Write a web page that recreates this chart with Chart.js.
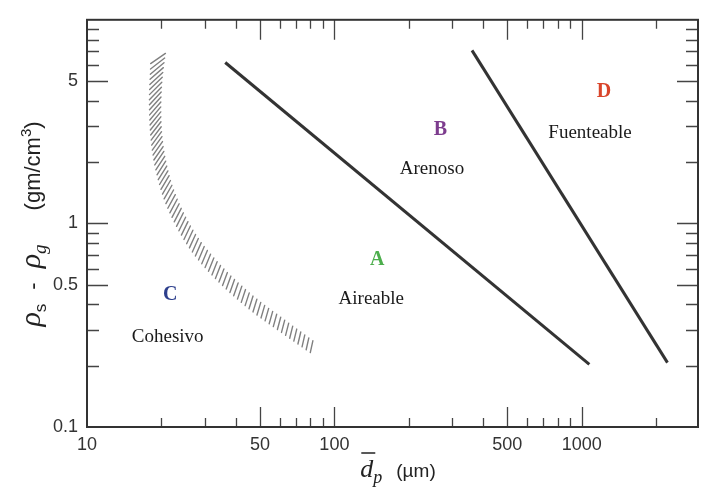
<!DOCTYPE html>
<html>
<head>
<meta charset="utf-8">
<script src="https://cdn.jsdelivr.net/npm/chart.js@4"></script>
<style>
  html, body { margin: 0; padding: 0; background: #fff; }
</style>
</head>
<body>
<canvas id="myChart" width="707" height="488"></canvas>
<script>
// tick labels shown on the log axes
const xTickLabels = [10, 50, 100, 500, 1000];
const yTickLabels = [0.1, 0.5, 1, 5];

// boundary A / B
const lineABx = [36.2, 1073];
const lineABy = [6.17, 0.203];
// boundary B / D
const lineBDx = [360, 2220];
const lineBDy = [7.08, 0.207];
// hatched boundary C / A
const lineCAx = [19.4, 18.9, 19.05, 20.0, 22.1, 26.6, 33.9, 45.7, 62.1, 83.6];
const lineCAy = [6.6, 4.29, 2.74, 1.86, 1.26, 0.823, 0.576, 0.412, 0.312, 0.241];

// region letters and names (data coordinates)
const regionLetters = ['C', 'A', 'B', 'D'];
const letterX = [21.7, 149, 268, 1230];
const letterY = [0.446, 0.666, 2.87, 4.43];
const regionNames = ['Cohesivo', 'Aireable', 'Arenoso', 'Fuenteable'];
const nameX = [21.2, 141, 248, 1080];
const nameY = [0.276, 0.426, 1.86, 2.77];

const letterColors = ['#2c3e8c', '#4cae4c', '#7d3c8e', '#d9452b'];

function toPoints(xs, ys) {
  return xs.map((x, i) => ({ x: x, y: ys[i] }));
}

function findLabel(list, v) {
  return list.find(l => Math.abs(v - l) / l < 1e-6);
}

function isWholeMultiple(v) {
  const e = Math.floor(Math.log10(v) + 1e-9);
  const m = v / Math.pow(10, e);
  return Math.abs(m - Math.round(m)) < 1e-6;
}

// text made of pieces with different fonts / offsets
function drawRich(ctx, parts, cx, baseY) {
  let total = 0;
  parts.forEach(p => {
    ctx.font = p.f;
    p.w = p.t ? ctx.measureText(p.t).width : 0;
    total += p.w + (p.gap || 0);
  });
  let x = cx - total / 2;
  ctx.textAlign = 'left';
  ctx.textBaseline = 'alphabetic';
  parts.forEach(p => {
    ctx.font = p.f;
    if (p.t) ctx.fillText(p.t, x, baseY + (p.dy || 0));
    p.x0 = x;
    x += p.w + (p.gap || 0);
  });
  return parts;
}

function drawHatch(ctx, pts) {
  const samples = [];
  for (let i = 0; i < pts.length - 1; i++) {
    const p0 = pts[Math.max(i - 1, 0)], p1 = pts[i], p2 = pts[i + 1], p3 = pts[Math.min(i + 2, pts.length - 1)];
    for (let k = 0; k < 20; k++) {
      const t = k / 20, t2 = t * t, t3 = t2 * t;
      const cr = (a, b, c, d) => 0.5 * (2 * b + (-a + c) * t + (2 * a - 5 * b + 4 * c - d) * t2 + (-a + 3 * b - 3 * c + d) * t3);
      samples.push({ x: cr(p0.x, p1.x, p2.x, p3.x), y: cr(p0.y, p1.y, p2.y, p3.y) });
    }
  }
  samples.push({ x: pts[pts.length - 1].x, y: pts[pts.length - 1].y });
  const cum = [0];
  for (let i = 1; i < samples.length; i++) {
    cum.push(cum[i - 1] + Math.hypot(samples[i].x - samples[i - 1].x, samples[i].y - samples[i - 1].y));
  }
  const total = cum[cum.length - 1];
  ctx.save();
  ctx.strokeStyle = '#808080';
  ctx.lineWidth = 1.4;
  ctx.lineCap = 'round';
  ctx.beginPath();
  let j = 1;
  for (let s = 2; s < total - 1; s += 5) {
    while (j < cum.length - 1 && cum[j] < s) j++;
    const a = samples[j - 1], b = samples[j];
    const seg = cum[j] - cum[j - 1] || 1;
    const f = (s - cum[j - 1]) / seg;
    const x = a.x + (b.x - a.x) * f, y = a.y + (b.y - a.y) * f;
    const frac = s / total;
    // stroke slant goes from shallow at the top to nearly upright at the bottom
    const ang = (31 + 47 * Math.sqrt(frac)) * Math.PI / 180;
    const half = (18 - 6 * frac) / 2;
    const dx = Math.cos(ang) * half, dy = -Math.sin(ang) * half;
    ctx.moveTo(x - dx, y - dy);
    ctx.lineTo(x + dx, y + dy);
  }
  ctx.stroke();
  ctx.restore();
}

const decorations = {
  id: 'decorations',
  afterDraw(chart) {
    const ctx = chart.ctx;
    const area = chart.chartArea;
    const xs = chart.scales.x, ys = chart.scales.y;

    // hatched C/A boundary
    const meta = chart.getDatasetMeta(0);
    drawHatch(ctx, meta.data.map(p => ({ x: p.x, y: p.y })));

    ctx.save();
    // inward ticks on all four sides
    ctx.strokeStyle = '#444';
    ctx.lineWidth = 1.3;
    ctx.beginPath();
    xs.ticks.forEach(t => {
      const v = t.value;
      if (!isWholeMultiple(v) || v <= xs.min * 1.0001 || v >= xs.max * 0.9999) return;
      const px = Math.round(xs.getPixelForValue(v)) + 0.5;
      const len = findLabel(xTickLabels, v) ? 20 : 9;
      ctx.moveTo(px, area.bottom); ctx.lineTo(px, area.bottom - len);
      ctx.moveTo(px, area.top); ctx.lineTo(px, area.top + len);
    });
    ys.ticks.forEach(t => {
      const v = t.value;
      if (!isWholeMultiple(v) || v <= ys.min * 1.0001 || v >= ys.max * 0.9999) return;
      const py = Math.round(ys.getPixelForValue(v)) + 0.5;
      const len = findLabel(yTickLabels, v) ? 21 : 12;
      ctx.moveTo(area.left, py); ctx.lineTo(area.left + len, py);
      ctx.moveTo(area.right, py); ctx.lineTo(area.right - len, py);
    });
    ctx.stroke();

    // frame
    ctx.strokeStyle = '#333';
    ctx.lineWidth = 2;
    ctx.strokeRect(area.left, area.top, area.right - area.left, area.bottom - area.top);

    // region labels
    ctx.textAlign = 'center';
    ctx.textBaseline = 'middle';
    regionLetters.forEach((l, i) => {
      ctx.font = 'bold 20px "Liberation Serif"';
      ctx.fillStyle = letterColors[i];
      ctx.fillText(l, xs.getPixelForValue(letterX[i]), ys.getPixelForValue(letterY[i]));
    });
    regionNames.forEach((n, i) => {
      ctx.font = '19px "Liberation Serif"';
      ctx.fillStyle = '#1a1a1a';
      ctx.fillText(n, xs.getPixelForValue(nameX[i]), ys.getPixelForValue(nameY[i]));
    });

    // axis titles
    ctx.fillStyle = '#222';
    const xParts = drawRich(ctx, [
      { t: 'd', f: 'italic 26px "Liberation Serif"' },
      { t: 'p', f: 'italic 18px "Liberation Serif"', dy: 6, gap: 14 },
      { t: '(\u00b5m)', f: '19px "Liberation Sans"' }
    ], 398, 477);
    ctx.strokeStyle = '#222';
    ctx.lineWidth = 1.5;
    ctx.beginPath();
    ctx.moveTo(xParts[0].x0 + 1, 453);
    ctx.lineTo(xParts[0].x0 + xParts[0].w + 2, 453);
    ctx.stroke();

    ctx.translate(40, 224);
    ctx.rotate(-Math.PI / 2);
    drawRich(ctx, [
      { t: '\u03c1', f: 'italic 30px "Liberation Serif"' },
      { t: 's', f: '17px "Liberation Sans"', dy: 6, gap: 14 },
      { t: '-', f: '22px "Liberation Sans"', gap: 14 },
      { t: '\u03c1', f: 'italic 30px "Liberation Serif"' },
      { t: 'g', f: 'italic 19px "Liberation Serif"', dy: 6, gap: 34 },
      { t: '(gm/cm', f: '22px "Liberation Sans"' },
      { t: '3', f: '15px "Liberation Sans"', dy: -9 },
      { t: ')', f: '22px "Liberation Sans"' }
    ], 0, 0);
    ctx.restore();
  }
};

const data = {
  datasets: [
    {
      label: 'C / A',
      data: toPoints(lineCAx, lineCAy),
      showLine: true,
      borderColor: 'rgba(0,0,0,0)',
      borderWidth: 1,
      pointRadius: 0
    },
    {
      label: 'A / B',
      data: toPoints(lineABx, lineABy),
      showLine: true,
      borderColor: '#333',
      borderWidth: 3,
      pointRadius: 0
    },
    {
      label: 'B / D',
      data: toPoints(lineBDx, lineBDy),
      showLine: true,
      borderColor: '#333',
      borderWidth: 3,
      pointRadius: 0
    }
  ]
};

const tickFont = { family: '"Liberation Sans"', size: 18 };

const config = {
  type: 'scatter',
  data: data,
  options: {
    responsive: false,
    animation: false,
    devicePixelRatio: 1,
    layout: { padding: { top: 14, right: 9, left: 0, bottom: 0 } },
    plugins: {
      legend: { display: false },
      tooltip: { enabled: false }
    },
    scales: {
      x: {
        type: 'logarithmic',
        min: 10,
        max: 2950,
        grid: { display: false, drawTicks: false },
        border: { display: false },
        ticks: {
          autoSkip: false,
          maxRotation: 0,
          padding: 7,
          color: '#333',
          font: tickFont,
          callback: (v) => {
            const l = findLabel(xTickLabels, v);
            return l ? String(l) : '';
          }
        },
        afterFit: (s) => { s.height = 61; }
      },
      y: {
        type: 'logarithmic',
        min: 0.1,
        max: 10,
        grid: { display: false, drawTicks: false },
        border: { display: false },
        ticks: {
          autoSkip: false,
          padding: 9,
          color: '#333',
          font: tickFont,
          callback: (v) => {
            const l = findLabel(yTickLabels, v);
            return l ? String(l) : '';
          }
        },
        afterFit: (s) => { s.width = 87; }
      }
    }
  },
  plugins: [decorations]
};

const myChart = new Chart(document.getElementById('myChart'), config);
</script>
</body>
</html>
